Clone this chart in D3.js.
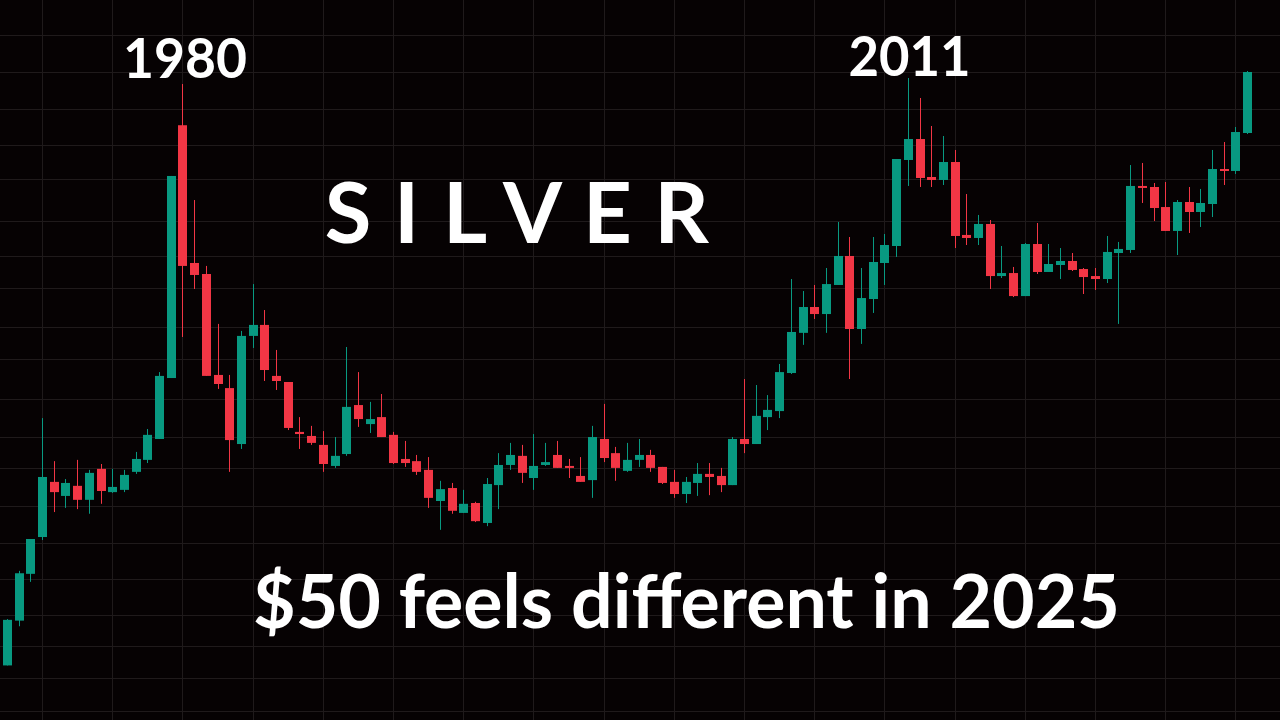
<!DOCTYPE html>
<html>
<head>
<meta charset="utf-8">
<script src="https://cdn.jsdelivr.net/npm/d3@7"></script>
<style>
  html, body { margin: 0; padding: 0; background: #060203; overflow: hidden; }
  svg { display: block; }
</style>
</head>
<body>
<svg id="chart" width="1280" height="720"></svg>
<script>
// Half-year candles, 1972 H2 .. 2025 H2
const startYear = 1972;
const periods = [];
for (let y = startYear; y <= 2025; y++) {
  if (y > startYear) periods.push(y + " H1");
  periods.push(y + " H2");
}

const open = [
  1.70,2.20,2.88,3.56,4.89,4.51,4.78,4.41,5.27,4.61,
  4.67,5.18,5.55,6.26,8.89,38.1,17.24,16.18,9.05,8.39,
  6.08,11.33,12.07,9.00,8.69,6.52,6.37,6.05,5.36,5.74,
  7.61,6.82,7.10,6.41,5.58,5.51,5.24,4.38,4.72,4.09,
  4.33,3.86,4.80,5.39,5.68,5.00,5.39,5.71,5.36,5.06,
  4.94,6.26,5.77,5.21,5.55,5.71,5.33,4.89,4.56,4.86,
  5.12,5.06,4.80,6.26,6.08,7.10,7.35,9.15,11.53,13.38,
  12.85,15.19,17.95,11.79,14.01,17.24,19.01,31.19,35.19,28.28,
  27.80,30.83,20.26,19.91,21.58,15.99,16.27,14.25,19.23,16.37,
  17.04,17.44,16.65,15.99,15.72,18.26,18.58,26.86,26.70,23.79,
  20.73,24.49,23.12,24.21,29.61,29.28,36.43
];
const high = [
  2.22,2.93,3.52,7.06,5.51,4.97,5.55,5.24,5.42,5.27,
  5.24,5.81,6.63,9.20,28.45,48.3,24.77,16.95,12.14,9.05,
  11.66,15.27,13.15,10.45,8.69,7.10,6.75,6.55,6.33,10.63,
  9.20,7.75,8.11,6.52,6.19,5.71,5.64,4.92,4.86,4.67,
  4.36,5.00,5.77,6.12,6.05,6.44,6.12,6.19,5.58,5.64,
  6.75,7.66,5.98,6.12,6.26,5.88,5.33,5.24,5.03,5.45,
  5.45,5.30,6.33,8.84,8.54,8.06,9.64,15.72,14.67,15.19,
  16.75,21.83,20.02,16.75,20.02,20.37,31.37,50.0,44.57,37.93,
  35.81,33.04,25.64,22.73,22.08,19.01,16.85,19.34,21.70,19.23,
  18.79,18.26,16.75,16.75,20.14,19.46,30.30,30.66,27.32,27.48,
  24.77,26.70,26.40,33.04,34.59,37.71,52.06
];
const low = [
  1.70,2.13,2.75,3.50,4.11,4.21,4.18,4.07,4.31,4.59,
  4.61,5.12,5.45,6.26,8.89,11.26,14.84,9.00,8.35,5.18,
  5.91,10.57,8.74,8.30,6.59,5.91,6.05,5.18,5.30,5.68,
  6.71,6.48,6.33,5.42,5.33,5.09,4.21,3.71,4.07,4.09,
  3.88,3.79,4.18,5.24,4.86,4.67,5.36,5.30,5.00,4.89,
  4.46,5.48,4.92,5.18,5.33,5.18,4.83,4.46,4.33,4.51,
  4.53,4.61,4.80,5.77,6.08,6.59,7.06,9.10,10.76,12.49,
  11.53,15.19,8.84,10.82,12.93,15.19,17.85,26.86,26.70,26.70,
  27.01,18.79,19.12,19.12,14.84,15.81,14.17,14.25,16.18,16.37,
  15.72,16.46,14.42,14.76,15.36,12.14,18.26,24.35,21.95,20.73,
  18.05,20.49,21.21,22.46,27.01,28.78,36.22
];
const close = [
  2.21,2.89,3.52,5.03,4.61,4.86,4.41,5.15,4.64,4.75,
  5.09,5.58,6.41,9.00,28.45,16.95,16.09,9.00,8.59,6.22,
  11.33,12.07,9.31,8.74,6.67,6.44,6.12,5.42,5.68,7.53,
  7.02,7.02,6.33,5.45,5.45,5.18,4.46,4.69,4.14,4.31,
  3.90,4.83,5.39,5.71,5.15,5.36,5.48,5.30,5.30,4.89,
  6.33,5.61,5.30,5.55,5.71,5.30,4.86,4.56,4.89,5.12,
  5.03,4.80,6.26,6.08,7.15,7.40,9.20,11.59,13.38,12.85,
  15.27,17.95,11.79,14.09,17.34,19.12,31.37,35.19,28.12,27.80,
  30.83,20.14,19.91,21.58,15.99,16.27,14.25,19.23,16.37,17.14,
  17.44,16.56,15.90,15.72,18.37,18.69,26.86,26.55,23.66,20.73,
  24.49,23.12,24.35,29.61,29.28,36.64,51.76
];

// log-scale price grid levels
const priceGrid = [1.31,1.58,1.9,2.27,2.79,3.43,4.25,5.29,6.32,7.87,9.9,11.96,14.95,17.98,21.99,27.91,33.91,41.76,51.7,63.9];
// time grid (every 3 years)
const timeGrid = ["1974 H1","1977 H1","1980 H1","1983 H1","1986 H1","1989 H1","1992 H1","1995 H1","1998 H1",
                  "2001 H1","2004 H1","2007 H1","2010 H1","2013 H1","2016 H1","2019 H1","2022 H1","2025 H1"];

const annotations = [
  { text: "1980", period: "1980 H1", dx: 2, y: 78, size: 56, len: 124 },
  { text: "2011", period: "2011 H1", dx: 1, y: 75.5, size: 56, len: 122 }
];
const titleLetters = ["S","I","L","V","E","R"];
const subtitle = "$50 feels different in 2025";

const W = 1280, H = 720;
const UP = "#089981", DOWN = "#F23645";
const GRID = "#1f1a1b";

const svg = d3.select("#chart");
svg.append("rect").attr("width", W).attr("height", H).attr("fill", "#060203");

const x = d3.scalePoint().domain(periods).range([7.5, 7.5 + 11.7 * (periods.length - 1)]);
const y = d3.scaleLog().domain([1.2417, 78.34]).range([720, 0]);

// grid
const g = svg.append("g");
g.selectAll("line.h").data(priceGrid).join("line")
  .attr("class", "h")
  .attr("x1", 0).attr("x2", W)
  .attr("y1", d => Math.round(y(d)) + 0.5).attr("y2", d => Math.round(y(d)) + 0.5)
  .attr("stroke", GRID).attr("stroke-width", 1);
g.selectAll("line.v").data(timeGrid).join("line")
  .attr("class", "v")
  .attr("y1", 0).attr("y2", H)
  .attr("x1", d => Math.round(x(d) - 4.5) + 4.5).attr("x2", d => Math.round(x(d) - 4.5) + 4.5)
  .attr("stroke", GRID).attr("stroke-width", 1);

// candles
const data = periods.map((p, i) => ({ p, o: open[i], h: high[i], l: low[i], c: close[i] }));
const cg = svg.append("g").selectAll("g").data(data).join("g");
cg.append("line")
  .attr("x1", d => Math.round(x(d.p) - 4.5) + 4.5)
  .attr("x2", d => Math.round(x(d.p) - 4.5) + 4.5)
  .attr("y1", d => y(d.h)).attr("y2", d => y(d.l))
  .attr("stroke", d => d.c >= d.o ? UP : DOWN).attr("stroke-width", 1);
cg.append("rect")
  .attr("x", d => Math.round(x(d.p) - 4.5))
  .attr("width", 9)
  .attr("y", d => Math.min(y(d.o), y(d.c)))
  .attr("height", d => Math.max(2, Math.abs(y(d.o) - y(d.c))))
  .attr("fill", d => d.c >= d.o ? UP : DOWN);

// text
const FONT = "Lato, 'Open Sans', 'Noto Sans', sans-serif";
svg.selectAll("text.ann").data(annotations).join("text")
  .attr("class", "ann")
  .attr("x", d => x(d.period) + d.dx)
  .attr("y", d => d.y)
  .attr("text-anchor", "middle")
  .attr("font-family", FONT).attr("font-weight", 700)
  .attr("font-size", d => d.size)
  .attr("textLength", d => d.len).attr("lengthAdjust", "spacingAndGlyphs")
  .attr("fill", "#ffffff")
  .text(d => d.text);

const letterX = [348, 406.5, 465, 532.5, 607.5, 681.5];
svg.selectAll("text.title").data(titleLetters).join("text")
  .attr("class", "title")
  .attr("x", (d, i) => letterX[i])
  .attr("y", 243)
  .attr("text-anchor", "middle")
  .attr("font-family", FONT).attr("font-weight", 700)
  .attr("font-size", 85)
  .attr("fill", "#ffffff")
  .text(d => d);

svg.append("text")
  .attr("x", 253).attr("y", 628)
  .attr("font-family", FONT).attr("font-weight", 700)
  .attr("font-size", 74)
  .attr("textLength", 867).attr("lengthAdjust", "spacingAndGlyphs")
  .attr("fill", "#ffffff")
  .text(subtitle);
</script>
</body>
</html>
